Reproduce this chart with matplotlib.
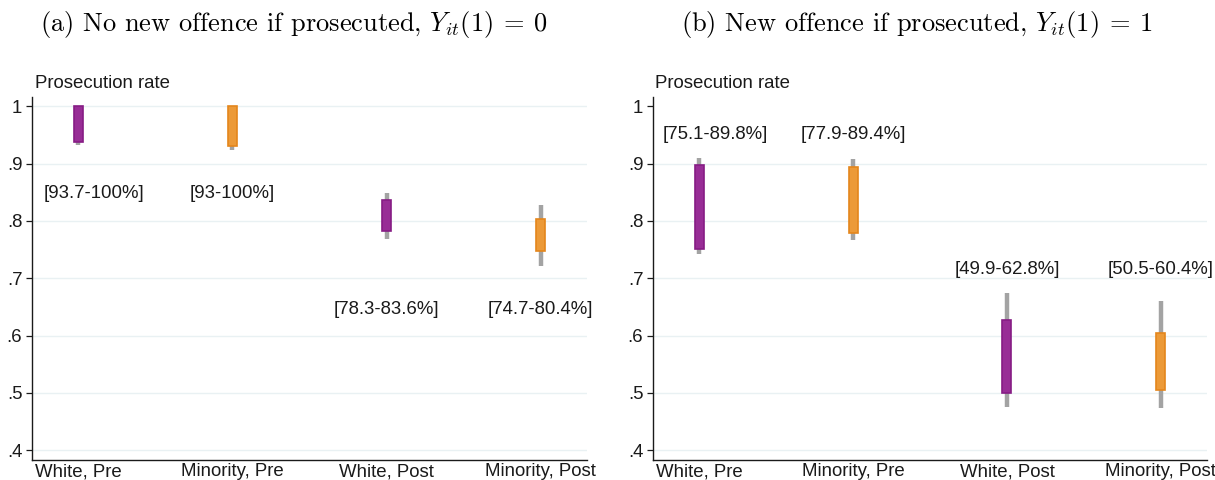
import matplotlib
matplotlib.use("Agg")
import matplotlib.pyplot as plt
from matplotlib.patches import Rectangle

plt.rcParams["font.family"] = ["Liberation Sans", "DejaVu Sans"]
plt.rcParams["mathtext.fontset"] = "cm"

categories = ["White, Pre", "Minority, Pre", "White, Post", "Minority, Post"]
bar_colors = ["#982d96", "#ec9a38", "#982d96", "#ec9a38"]
edge_colors = ["#861c84", "#e4861c", "#861c84", "#e4861c"]

# Panel (a): bounds (box) and outer intervals (whiskers)
a_low = [0.937, 0.930, 0.783, 0.747]
a_high = [1.000, 1.000, 0.836, 0.804]
a_wlow = [0.932, 0.923, 0.768, 0.722]
a_whigh = [1.000, 1.000, 0.848, 0.827]

# Panel (b)
b_low = [0.751, 0.779, 0.499, 0.505]
b_high = [0.898, 0.894, 0.628, 0.604]
b_wlow = [0.742, 0.766, 0.476, 0.473]
b_whigh = [0.909, 0.908, 0.675, 0.661]

titles = [r"(a) No new offence if prosecuted, $Y_{it}(1)\:=\:0$",
          r"(b) New offence if prosecuted, $Y_{it}(1)\:=\:1$"]
ytick_vals = [0.4, 0.5, 0.6, 0.7, 0.8, 0.9, 1.0]
ytick_labels = [".4", ".5", ".6", ".7", ".8", ".9", "1"]

fig = plt.figure(figsize=(12.15, 4.8), dpi=100)
W, H = 1215, 480
ax_a = fig.add_axes([32 / W, 20 / H, 555 / W, 363 / H])
ax_b = fig.add_axes([653 / W, 20 / H, 554 / W, 363 / H])

grid_color = "#e9f1f3"
FS = 13.4


def fmt_pct(v):
    return f"{v * 100:.1f}".rstrip("0").rstrip(".")


def draw_panel(ax, low, high, wlow, whigh, labels_below, grid_vals):
    xs = list(range(1, len(categories) + 1))
    ax.set_xlim(0.70, 4.30)
    ax.set_ylim(0.383, 1.016)
    for g in grid_vals:
        ax.axhline(g, color=grid_color, lw=1.0, zorder=0)
    bw = 0.058
    for x, lo, hi, wl, wh, fc, ec in zip(xs, low, high, wlow, whigh, bar_colors, edge_colors):
        ax.vlines(x, wl, wh, color="#a3a3a3", lw=3.2, zorder=2)
        ax.add_patch(Rectangle((x - bw / 2, lo), bw, hi - lo, facecolor=fc,
                               edgecolor=ec, lw=1.2, zorder=3))
    # interval labels, pairs share a common height
    for pair in [(0, 1), (2, 3)]:
        if labels_below:
            y = min(wlow[i] for i in pair) - 0.076
        else:
            y = max(whigh[i] for i in pair) + 0.041
        for i in pair:
            txt = f"[{fmt_pct(low[i])}-{fmt_pct(high[i])}%]"
            # the first label is nudged right to stay clear of the y axis
            dx = 11.5 if i == 0 else 0
            ax.annotate(txt, (xs[i], y), xytext=(dx, 0), textcoords="offset points",
                        ha="center", va="center", fontsize=FS,
                        color="#1a1a1a", zorder=4)
    ax.set_xticks(xs)
    ax.set_xticklabels(categories, fontsize=FS, color="#1a1a1a")
    ax.tick_params(axis="x", length=0, pad=2.5)
    ax.set_yticks(ytick_vals)
    ax.set_yticklabels(ytick_labels, fontsize=FS, color="#1a1a1a")
    ax.tick_params(axis="y", length=4, width=0.9, pad=3, color="#1a1a1a")
    for s in ["top", "right"]:
        ax.spines[s].set_visible(False)
    for s in ["left", "bottom"]:
        ax.spines[s].set_linewidth(1.0)
        ax.spines[s].set_color("#1a1a1a")


draw_panel(ax_a, a_low, a_high, a_wlow, a_whigh, True, ytick_vals)
draw_panel(ax_b, b_low, b_high, b_wlow, b_whigh, False, ytick_vals[:-1])

fig.text(35 / W, 1 - 84 / H, "Prosecution rate", ha="left", va="center",
         fontsize=FS, color="#1a1a1a")
fig.text(655 / W, 1 - 84 / H, "Prosecution rate", ha="left", va="center",
         fontsize=FS, color="#1a1a1a")

fig.text(294 / W, 1 - 24 / H, titles[0], ha="center", va="center",
         fontsize=19, family="cmr10")
fig.text(917 / W, 1 - 24 / H, titles[1], ha="center", va="center",
         fontsize=19, family="cmr10")

fig.savefig("out.png", dpi=100)
